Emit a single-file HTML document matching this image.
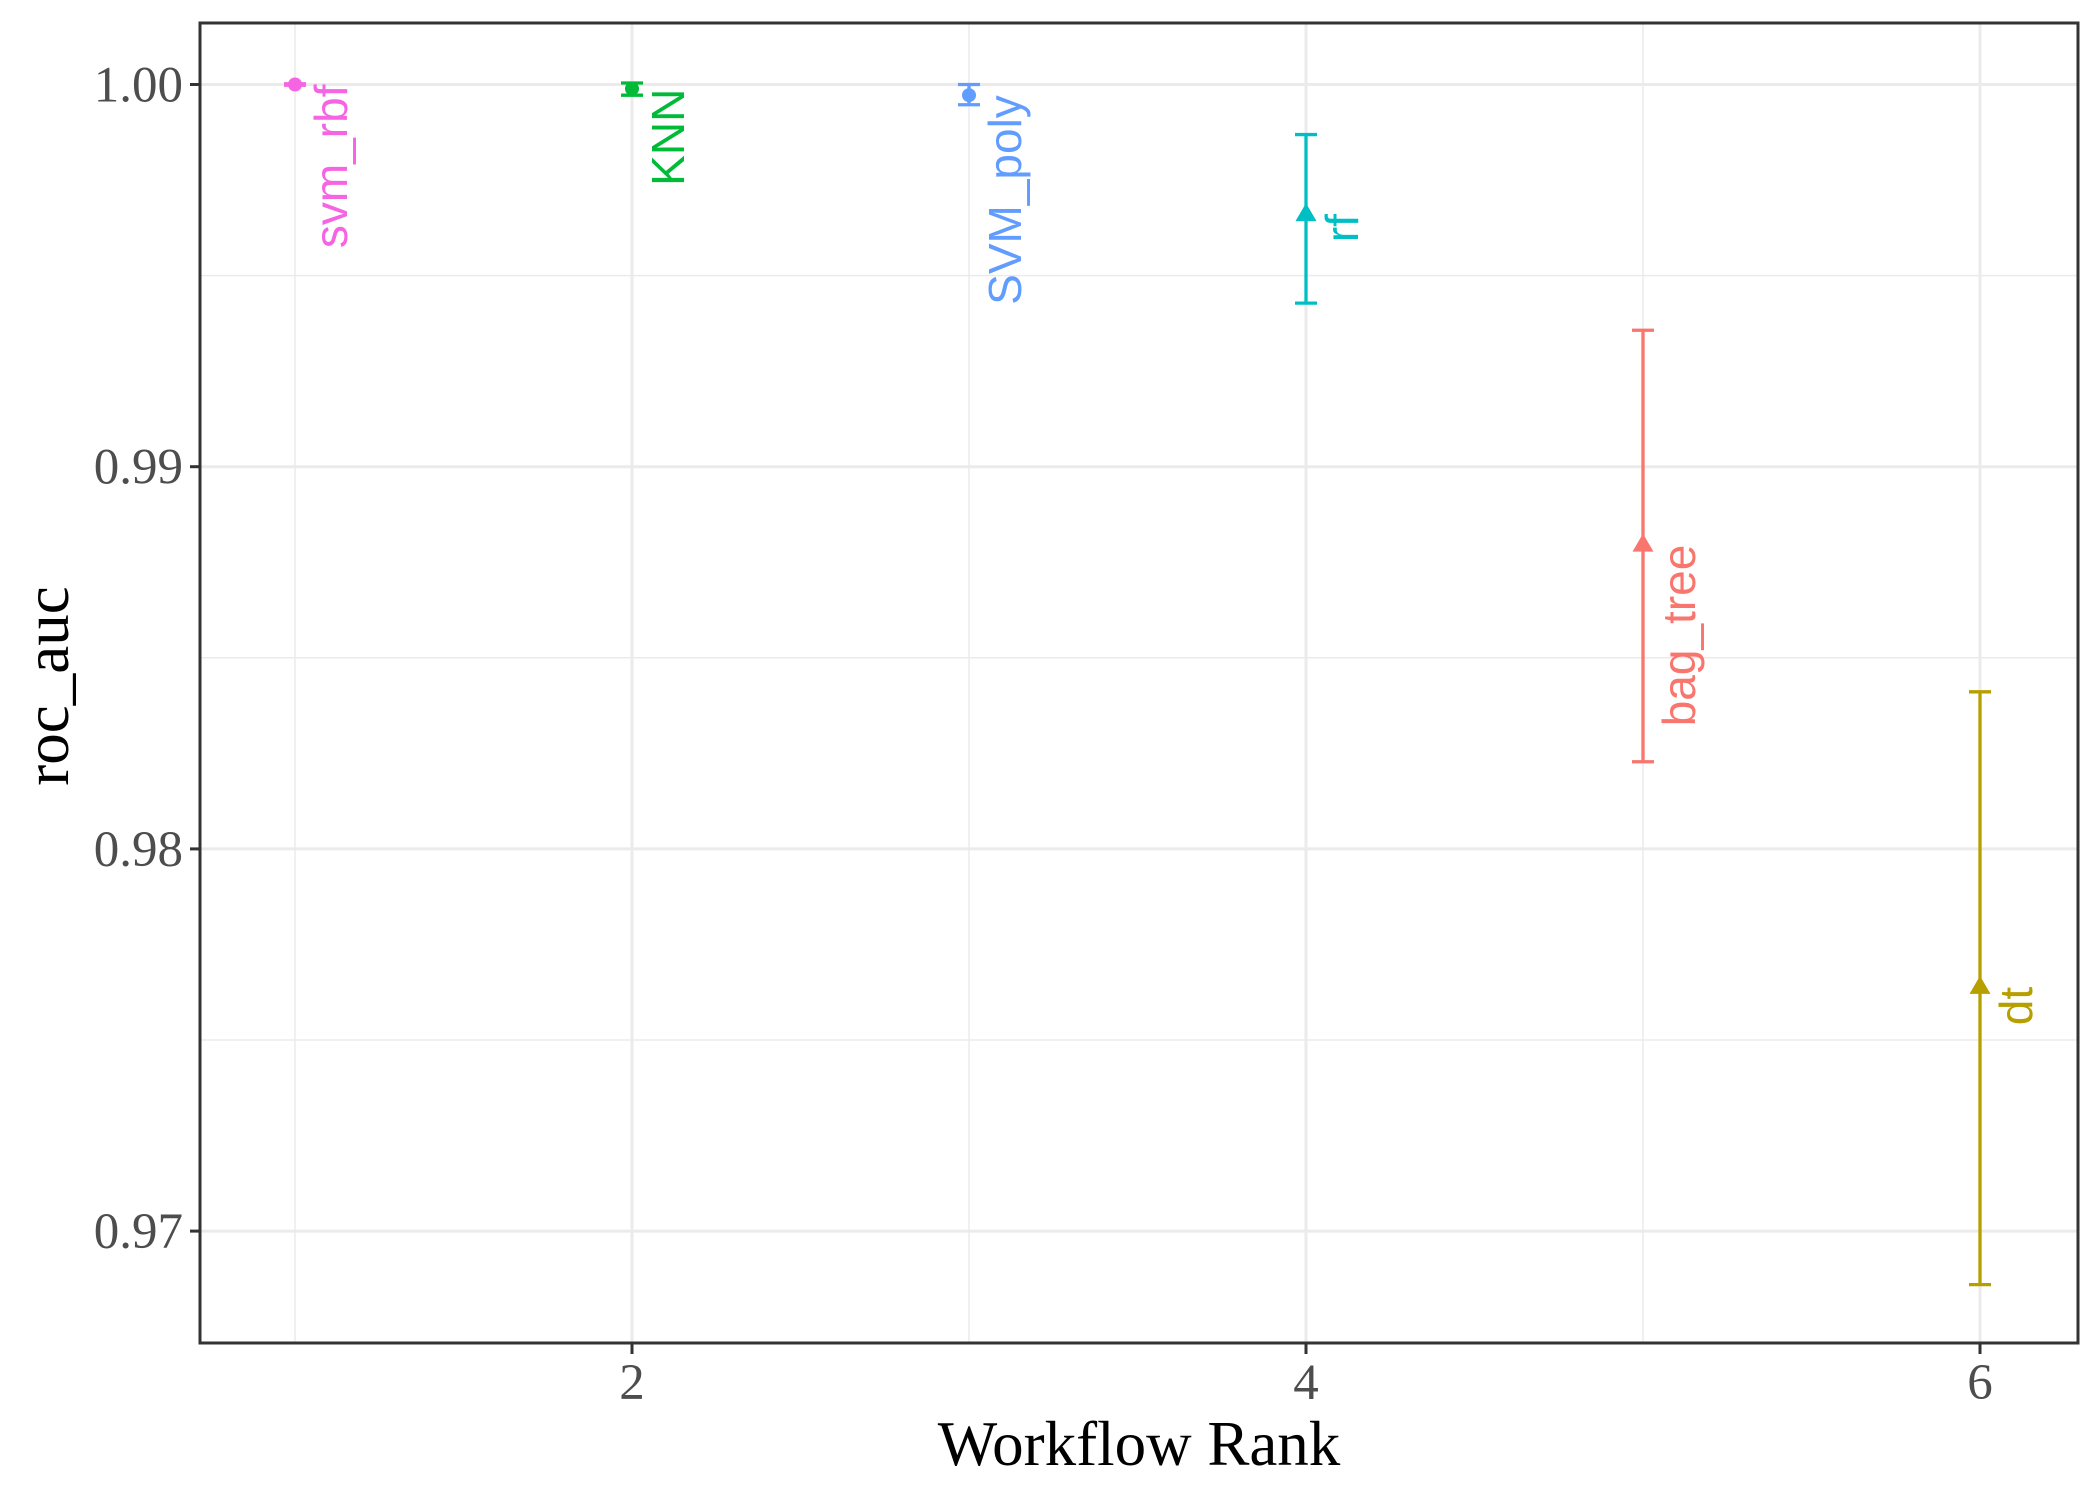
<!DOCTYPE html>
<html><head><meta charset="utf-8"><style>
body{margin:0;background:#fff;}
svg{display:block;}
</style></head><body>
<svg id="chart" width="2100" height="1500" viewBox="0 0 2100 1500" xmlns="http://www.w3.org/2000/svg">
<rect x="0" y="0" width="2100" height="1500" fill="#fff"/>
<g id="grid"></g>
<g id="marks"></g>
<rect x="200" y="23" width="1878" height="1320" fill="none" stroke="#333" stroke-width="3"/>
<g id="axes"></g>
<text x="1139" y="1465" font-family="'Liberation Serif', serif" font-size="63" text-anchor="middle" fill="#000">Workflow Rank</text>
<text transform="translate(68,686) rotate(-90)" font-family="'Liberation Serif', serif" font-size="63" text-anchor="middle" fill="#000">roc_auc</text>
</svg>
<script>
const models = ["svm_rbf","KNN","SVM_poly","rf","bag_tree","dt"];
const ranks = [1,2,3,4,5,6];
const means = [1.0000,0.99989,0.99972,0.99661,0.98796,0.97639];
const uppers = [1.00002,1.00004,1.0000,0.99869,0.99357,0.98411];
const lowers = [0.99998,0.99972,0.99947,0.99428,0.98228,0.96860];
const shapes = ["circle","circle","circle","triangle","triangle","triangle"];
const colors = ["#F564E3","#00BA38","#619CFF","#00BFC4","#F8766D","#B79F00"];
const yTicks = [0.97,0.98,0.99,1.00];
const yTickLabels = ["0.97","0.98","0.99","1.00"];
const yMinor = [0.975,0.985,0.995];
const xTicks = [2,4,6];
const xMinor = [1,3,5];

const NS="http://www.w3.org/2000/svg";
const X0=200,X1=2078,Y0=23,Y1=1343;
function xs(v){return 295+(v-1)*337;}
function ys(v){return 84.5+(1.0-v)*38220;}
function mk(tag,attrs,parent){const e=document.createElementNS(NS,tag);for(const k in attrs)e.setAttribute(k,attrs[k]);parent.appendChild(e);return e;}
const grid=document.getElementById('grid'),marks=document.getElementById('marks'),axes=document.getElementById('axes');

yMinor.forEach(v=>{const l=mk('line',{x1:X0,x2:X1,y1:ys(v),y2:ys(v),stroke:'#EBEBEB','stroke-width':1.5},grid);

});
xMinor.forEach(v=>{const l=mk('line',{x1:xs(v),x2:xs(v),y1:Y0,y2:Y1,stroke:'#EBEBEB','stroke-width':1.5},grid);

});
yTicks.forEach((v,i)=>{const l=mk('line',{x1:X0,x2:X1,y1:ys(v),y2:ys(v),stroke:'#EBEBEB','stroke-width':3},grid);


const t=mk('line',{x1:X0-10,x2:X0,y1:ys(v),y2:ys(v),stroke:'#333','stroke-width':3},axes);


const tx=mk('text',{x:X0-17,y:ys(v)+17,'font-family':"'Liberation Serif', serif",'font-size':51,'text-anchor':'end',fill:'#4D4D4D'},axes);
tx.textContent=yTickLabels[i];

});
xTicks.forEach(v=>{const l=mk('line',{x1:xs(v),x2:xs(v),y1:Y0,y2:Y1,stroke:'#EBEBEB','stroke-width':3},grid);


const t=mk('line',{x1:xs(v),x2:xs(v),y1:Y1,y2:Y1+11,stroke:'#333','stroke-width':3},axes);


const tx=mk('text',{x:xs(v),y:1399,'font-family':"'Liberation Serif', serif",'font-size':51,'text-anchor':'middle',fill:'#4D4D4D'},axes);
tx.textContent=String(v);

});

models.forEach((m,i)=>{
 const g=mk('g',{},marks);
 
 
 const x=xs(ranks[i]),c=colors[i],yu=ys(uppers[i]),yl=ys(lowers[i]),ym=ys(means[i]);
 const eb=mk('path',{d:`M${x-11},${yu}H${x+11}M${x},${yu}V${yl}M${x-11},${yl}H${x+11}`,stroke:c,'stroke-width':3.3,fill:'none'},g);
 
 
 let p;
 if(shapes[i]==='circle'){p=mk('circle',{cx:x,cy:ym,r:7,fill:c},g);}
 else{p=mk('polygon',{points:`${x},${ym-11} ${x-10.5},${ym+7} ${x+10.5},${ym+7}`,fill:c},g);}
 
 
 const t=mk('text',{transform:`translate(${x+36},${ym}) rotate(-90)`,'font-family':"'Liberation Sans', sans-serif",'font-size':46,'text-anchor':'end','dominant-baseline':'central',fill:c},g);
 t.textContent=m;
 
 
});
</script>
</body></html>
